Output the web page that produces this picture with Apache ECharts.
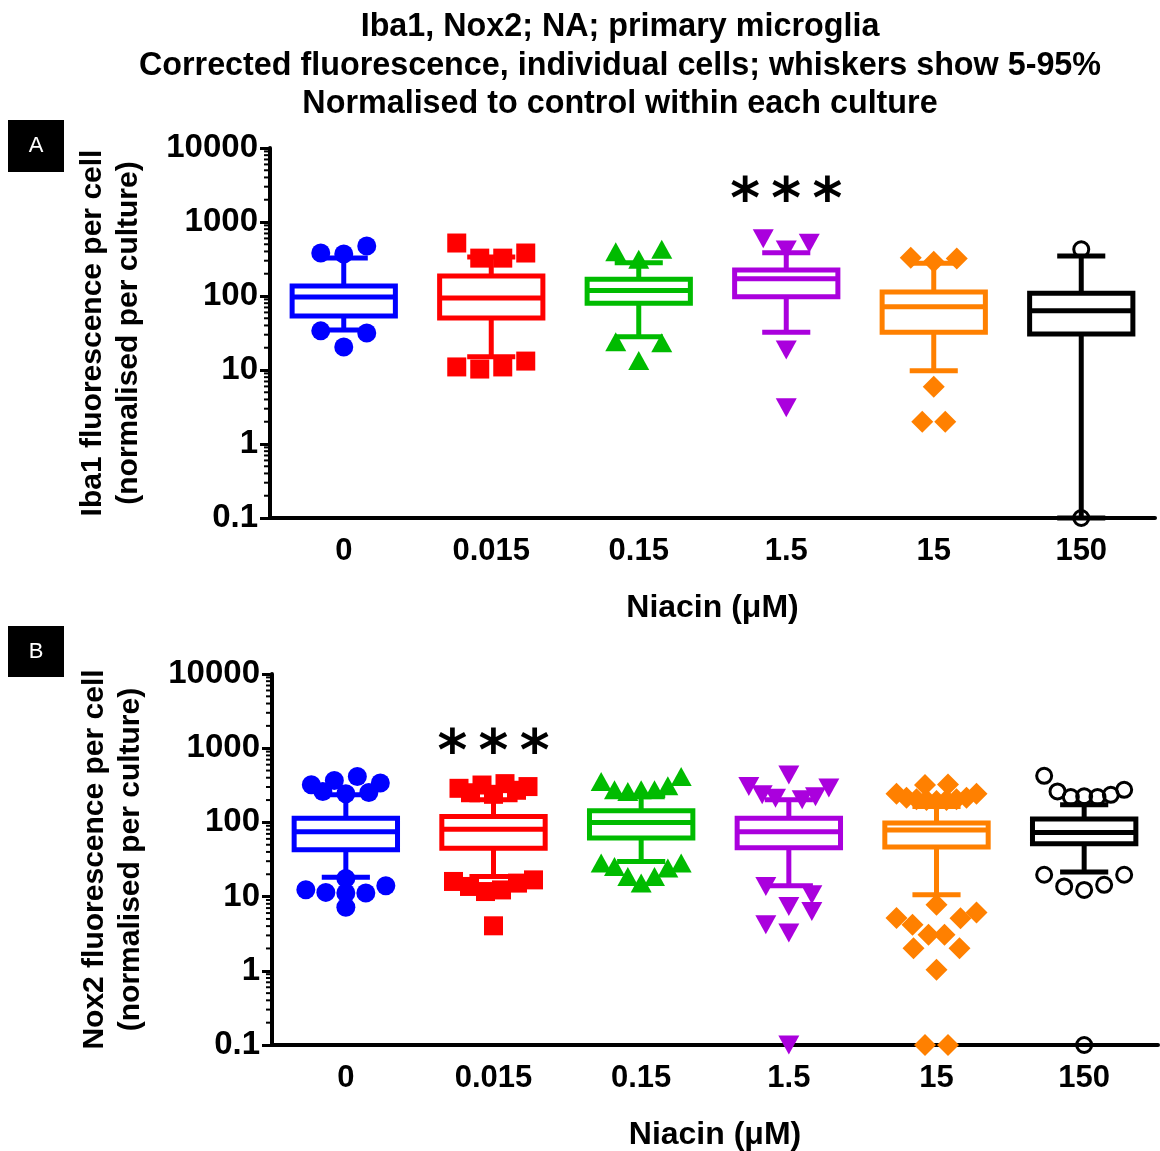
<!DOCTYPE html>
<html>
<head>
<meta charset="utf-8">
<script src="https://cdn.jsdelivr.net/npm/echarts@6/dist/echarts.min.js"></script>
<style>
  html, body { margin: 0; padding: 0; background: #fff; }
  #chart { width: 1160px; height: 1151px; }
</style>
</head>
<body>
<div id="chart"></div>
<script>
const doses = ['0', '0.015', '0.15', '1.5', '15', '150'];

// Panel A: Iba1. Whiskers 5-95 %, box Q1 / median / Q3
const iba1P5 = [34.8, 15.1, 28.2, 32.3, 9.8, 0.1];
const iba1Q1 = [53.8, 50.5, 79.7, 98, 32.3, 30.6];
const iba1Median = [97, 94, 119, 171, 71.7, 63.3];
const iba1Q3 = [136, 187, 168, 224, 113, 109];
const iba1P95 = [325, 337, 282, 385, 277, 347];
// cells outside the whiskers: rows from the box outwards, each row left to right
const iba1Above = [
  [[381, 370, 474]],
  [[520, 325, 325, 381]],
  [[397, 313, 427]],
  [[595, 418, 515]],
  [[330, 290, 320]],
  [[427]]
];
const iba1Below = [
  [[33.8, 20.5, 31.7]],
  [[11, 10.3, 11, 13.2]],
  [[24.1, 13.4, 23.4]],
  [[18.7], [3.1]],
  [[5.95], [2.0, 2.0]],
  [[0.1]]
];
const iba1Sig = [[3, 1800]];

// Panel B: Nox2
const nox2P5 = [18.3, 18.7, 29.7, 14.0, 10.6, 21.4];
const nox2Q1 = [42.7, 45, 61.4, 45.5, 46.5, 51.5];
const nox2Median = [74.7, 81, 100, 74.7, 78.8, 73.1];
const nox2Q3 = [114, 120, 143, 114, 98, 111];
const nox2P95 = [235, 202, 228, 202, 164, 173];
const nox2Above = [
  [[261, 243, 253], [321, 367, 416, 339]],
  [[251, 239, 271], [288, 319, 333, 304]],
  [[356, 275, 261, 275, 275, 311, 416]],
  [[305, 235, 212, 437, 202, 222, 290]],
  [[243, 215, 205, 200, 195, 200, 205, 215, 243], [318, 325]],
  [[425, 261, 220, 225, 220, 235, 275]]
];
const nox2Below = [
  [[17.6], [12.4, 11.4, 11.2, 11.2, 14], [7.2]],
  [[16, 13.7, 11.7, 12.3, 15.2, 16.8], [4.04]],
  [[28.3, 25.4, 18.7, 15.2, 18.7, 24.2, 28.3]],
  [[13.7, 7.36, 10.6], [4.16, 3.22, 6.3], [0.1]],
  [[7.75], [5.13, 4.16, 3.06, 3.06, 5.1, 6.1], [2.02, 1.03, 2.02], [0.1, 0.1]],
  [[19.7, 13.7, 12.3, 14.4, 19.7], [0.1]]
];
const nox2Sig = [[1, 815]];

const groupStyle = [
  { color: '#0000FF', symbol: 'circle', size: 19 },
  { color: '#FF0000', symbol: 'rect', size: 19 },
  { color: '#00BB00', symbol: 'triangle', size: [21, 19] },
  { color: '#AA00DD', symbol: 'triangle', size: [21, 19], rotate: 180 },
  { color: '#FF8000', symbol: 'diamond', size: 22 },
  { color: '#000000', symbol: 'circle', size: 15, open: true }
];

const FONT = '"Liberation Sans", Arial, sans-serif';

// minor ticks at 2..9 x 10^k
const minorTicks = [];
for (let e = -1; e <= 3; e++) {
  for (let m = 2; m <= 9; m++) minorTicks.push(Number((m * Math.pow(10, e)).toPrecision(2)));
}

function boxRender(params, api) {
  const i = api.value(0);
  const x = api.coord([i, 1])[0];
  const band = api.size([1, 1])[0];
  const y = (d) => api.coord([i, api.value(d)])[1];
  const half = band * 0.35, cap = band * 0.163;
  const c = groupStyle[i].color;
  const ln = { stroke: c, lineWidth: 5 };
  const yLo = y(1), yQ1 = y(2), yMed = y(3), yQ3 = y(4), yHi = y(5);
  return {
    type: 'group',
    children: [
      { type: 'line', shape: { x1: x, y1: yQ3, x2: x, y2: yHi }, style: ln },
      { type: 'line', shape: { x1: x - cap, y1: yHi, x2: x + cap, y2: yHi }, style: ln },
      { type: 'line', shape: { x1: x, y1: yQ1, x2: x, y2: yLo }, style: ln },
      { type: 'line', shape: { x1: x - cap, y1: yLo, x2: x + cap, y2: yLo }, style: ln },
      { type: 'rect', shape: { x: x - half, y: yQ3, width: 2 * half, height: yQ1 - yQ3 },
        style: { stroke: c, lineWidth: 5, fill: '#fff' } },
      { type: 'line', shape: { x1: x - half, y1: yMed, x2: x + half, y2: yMed }, style: ln }
    ]
  };
}

function minorRender(params, api) {
  const yy = api.coord([0, api.value(0)])[1];
  const x0 = params.coordSys.x;
  return { type: 'line', shape: { x1: x0 - 6, y1: yy, x2: x0, y2: yy },
    style: { stroke: '#000', lineWidth: 2 } };
}

function spread(rows, i) {
  const pts = [];
  rows.forEach((row) => {
    const n = row.length;
    const step = n > 1 ? Math.min(23, 80 / (n - 1)) : 0;
    row.forEach((v, j) => {
      pts.push({ value: [i, v], symbolOffset: [(j - (n - 1) / 2) * step, 0] });
    });
  });
  return pts;
}

function panelSeries(k, p5, q1, med, q3, p95, above, below, sig) {
  const list = [];
  list.push({
    type: 'custom', xAxisIndex: k, yAxisIndex: k, z: 2,
    renderItem: minorRender, data: minorTicks.map((v) => [v]),
    encode: { y: 0 }, silent: true
  });
  list.push({
    type: 'custom', xAxisIndex: k, yAxisIndex: k, z: 3,
    renderItem: boxRender,
    data: doses.map((d, i) => [i, p5[i], q1[i], med[i], q3[i], p95[i]]),
    encode: { x: 0, y: [1, 2, 3, 4, 5] }
  });
  doses.forEach((d, i) => {
    const g = groupStyle[i];
    list.push({
      type: 'scatter', xAxisIndex: k, yAxisIndex: k, z: 4, clip: false,
      symbol: g.symbol, symbolSize: g.size, symbolRotate: g.rotate || 0,
      itemStyle: g.open
        ? { color: 'rgba(0,0,0,0)', borderColor: g.color, borderWidth: 3, opacity: 1 }
        : { color: g.color, opacity: 1 },
      data: spread(above[i], i).concat(spread(below[i], i))
    });
  });
  list.push({
    type: 'scatter', xAxisIndex: k, yAxisIndex: k, z: 5, clip: false,
    symbolSize: 0, data: sig, itemStyle: { opacity: 1 },
    label: { show: true, position: 'inside', formatter: '*\u2009*\u2009*', color: '#000',
      fontFamily: '"DejaVu Sans", sans-serif', fontWeight: 'bold', fontSize: 57 }
  });
  return list;
}

function xAxisFor(k) {
  return {
    type: 'category', gridIndex: k, data: doses, boundaryGap: true,
    axisLine: { lineStyle: { color: '#000', width: 4 } },
    axisTick: { alignWithLabel: true, length: 10, lineStyle: { color: '#000', width: 3 } },
    axisLabel: { color: '#000', fontFamily: FONT, fontWeight: 'bold', fontSize: 31, margin: 18 },
    name: 'Niacin (\u03bcM)', nameLocation: 'middle', nameGap: 74,
    nameTextStyle: { color: '#000', fontFamily: FONT, fontWeight: 'bold', fontSize: 32, lineHeight: 32 },
    splitLine: { show: false }
  };
}

function yAxisFor(k, name) {
  return {
    type: 'log', gridIndex: k, logBase: 10, min: 0.1, max: 10000,
    axisLine: { show: true, lineStyle: { color: '#000', width: 4 } },
    axisTick: { show: true, length: 10, lineStyle: { color: '#000', width: 3 } },
    axisLabel: { color: '#000', fontFamily: FONT, fontWeight: 'bold', fontSize: 33, margin: 12,
      formatter: (v) => String(Number(v.toPrecision(3))) },
    splitLine: { show: false },
    name: name, nameLocation: 'middle', nameGap: 123, nameMoveOverlap: false,
    nameTextStyle: { color: '#000', fontFamily: FONT, fontWeight: 'bold', fontSize: 30, lineHeight: 36 }
  };
}

const chart = echarts.init(document.getElementById('chart'));
chart.setOption({
  backgroundColor: '#fff',
  animation: false,
  title: {
    text: 'Iba1, Nox2; NA; primary microglia\nCorrected fluorescence, individual cells; whiskers show 5-95%\nNormalised to control within each culture',
    left: 615, top: 3, textAlign: 'center',
    textStyle: { color: '#000', fontFamily: FONT, fontWeight: 'bold', fontSize: 32.3, lineHeight: 38.5 }
  },
  grid: [
    { left: 270, top: 148, width: 885, height: 370, outerBoundsMode: 'none' },
    { left: 272, top: 674, width: 886, height: 371, outerBoundsMode: 'none' }
  ],
  xAxis: [xAxisFor(0), xAxisFor(1)],
  yAxis: [
    yAxisFor(0, 'Iba1 fluorescence per cell\n(normalised per culture)'),
    yAxisFor(1, 'Nox2 fluorescence per cell\n(normalised per culture)')
  ],
  graphic: [
    { type: 'rect', shape: { x: 8, y: 120, width: 56, height: 52 }, style: { fill: '#000' } },
    { type: 'text', x: 36, y: 146, style: { text: 'A', fill: '#fff', font: '22px ' + FONT, align: 'center', verticalAlign: 'middle' } },
    { type: 'rect', shape: { x: 8, y: 626, width: 56, height: 51 }, style: { fill: '#000' } },
    { type: 'text', x: 36, y: 652, style: { text: 'B', fill: '#fff', font: '22px ' + FONT, align: 'center', verticalAlign: 'middle' } }
  ],
  series: panelSeries(0, iba1P5, iba1Q1, iba1Median, iba1Q3, iba1P95, iba1Above, iba1Below, iba1Sig)
    .concat(panelSeries(1, nox2P5, nox2Q1, nox2Median, nox2Q3, nox2P95, nox2Above, nox2Below, nox2Sig))
});
</script>
</body>
</html>
